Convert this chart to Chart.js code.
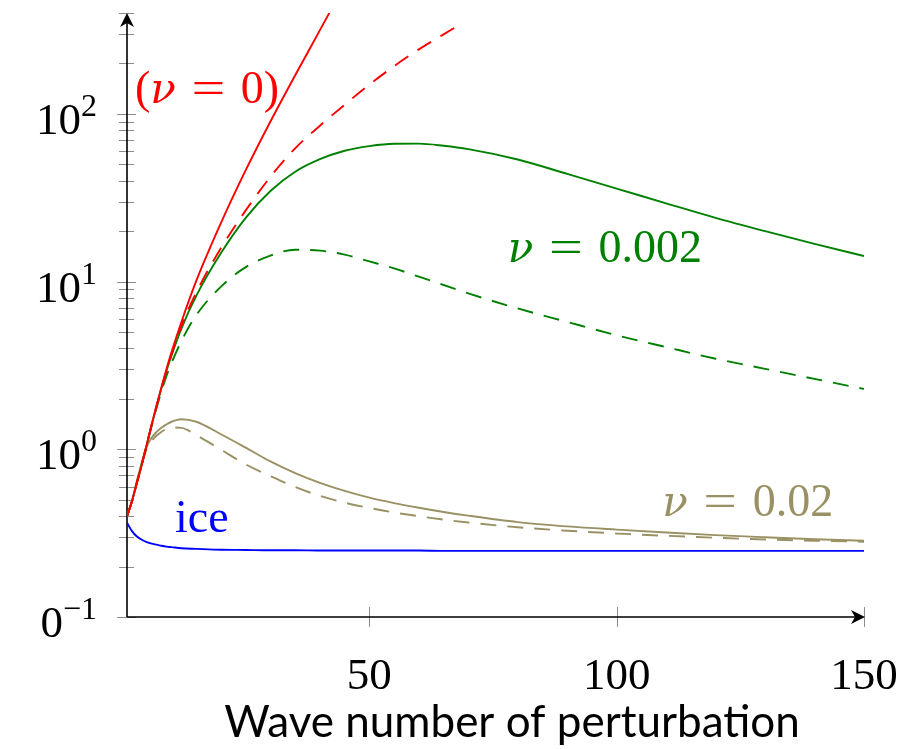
<!DOCTYPE html>
<html>
<head>
<meta charset="utf-8">
<title>Growth rate vs wave number of perturbation</title>
<script src="https://cdn.jsdelivr.net/npm/chart.js@4.4.1/dist/chart.umd.min.js"></script>
<style>
  html, body { margin: 0; padding: 0; background: #ffffff; }
  #chart { display: block; }
</style>
</head>
<body>
<canvas id="chart" width="914" height="749"></canvas>
<script>
// Values (log scale on y)
const waveNumbers = [1, 2, 3, 4, 5, 6, 7, 8, 9, 10, 12, 15, 20, 25, 30, 35, 40, 45, 50, 55, 60, 65, 70, 80, 90, 100, 110, 120, 130, 140, 150];

// nu = 0 curves leave the plot early
const inviscidSolidX = [1, 2, 3, 4, 5, 6, 7, 8, 9, 10, 12, 15, 20, 25, 30, 35, 40, 45];
const inviscidSolid = [0.398, 0.49, 0.631, 0.813, 1.07, 1.41, 1.84, 2.37, 3.02, 3.80, 5.75, 10.1, 22.4, 46.2, 90.2, 170, 316, 589];
const inviscidDashedX = [1, 2, 3, 4, 5, 6, 7, 8, 9, 10, 12, 15, 20, 25, 30, 35, 40, 45, 50, 55, 60, 65, 69];
const inviscidDashed = [0.398, 0.49, 0.631, 0.813, 1.07, 1.41, 1.82, 2.34, 2.95, 3.67, 5.43, 8.61, 15.85, 26.6, 42.2, 62.4, 85.1, 113.5, 149.6, 192.8, 242.7, 298.5, 350.8];

const nu002Solid = [0.398, 0.49, 0.631, 0.813, 1.07, 1.40, 1.82, 2.34, 2.95, 3.63, 5.25, 8.22, 14.8, 24.0, 34.7, 45.2, 53.7, 60.3, 64.3, 66.4, 66.5, 64.6, 61.7, 53.5, 43.9, 35.9, 29.3, 24.0, 20.0, 16.8, 14.2];
const nu002Dashed = [0.398, 0.49, 0.631, 0.813, 1.06, 1.38, 1.78, 2.24, 2.75, 3.27, 4.42, 6.31, 9.33, 12.2, 14.3, 15.5, 15.3, 14.5, 13.2, 12.0, 10.7, 9.55, 8.51, 6.92, 5.75, 4.79, 4.07, 3.47, 3.02, 2.63, 2.29];

const nu02Solid = [0.398, 0.49, 0.646, 0.841, 1.035, 1.175, 1.27, 1.35, 1.41, 1.46, 1.51, 1.46, 1.23, 1.023, 0.847, 0.721, 0.631, 0.565, 0.515, 0.478, 0.448, 0.423, 0.402, 0.368, 0.347, 0.332, 0.319, 0.308, 0.299, 0.291, 0.285];
const nu02Dashed = [0.398, 0.49, 0.646, 0.832, 1.0, 1.122, 1.208, 1.274, 1.324, 1.349, 1.343, 1.216, 0.995, 0.813, 0.692, 0.596, 0.528, 0.481, 0.447, 0.420, 0.399, 0.381, 0.366, 0.343, 0.327, 0.315, 0.305, 0.297, 0.290, 0.285, 0.281];

const iceValues = [0.365, 0.325, 0.302, 0.289, 0.280, 0.274, 0.270, 0.266, 0.263, 0.261, 0.257, 0.255, 0.252, 0.251, 0.250, 0.250, 0.249, 0.249, 0.249, 0.249, 0.249, 0.248, 0.248, 0.248, 0.248, 0.248, 0.248, 0.248, 0.248, 0.248, 0.248];

// axis ticks
const xTicks = [50, 100, 150];
const yDecades = [0.1, 1, 10, 100];
const yDecadeBases = ['0', '10', '10', '10'];
const yDecadeExps = ['\u22121', '0', '1', '2'];
const yMinorTicks = [0.2, 0.3, 0.4, 0.5, 0.6, 0.7, 0.8, 0.9, 2, 3, 4, 5, 6, 7, 8, 9, 20, 30, 40, 50, 60, 70, 80, 90, 200, 300, 400];

const xTitle = 'Wave number of perturbation';

const COLORS = {
    red: '#ff0000',
    green: '#008000',
    olive: '#999163',
    blue: '#0000ff',
    tick: '#8c8c8c'
};

const SERIF = '"Liberation Serif", "DejaVu Serif", serif';
const GREEK = '"DejaVu Serif", serif';

// curve annotations, placed in data coordinates
const curveLabels = [
    { x: 2.6, y: 116, color: COLORS.red, value: '0', wrap: true },
    { x: 78.0, y: 13.1, color: COLORS.green, value: '0.002' },
    { x: 109.2, y: 0.40, color: COLORS.olive, value: '0.02' },
    { x: 10.7, y: 0.321, color: COLORS.blue, text: 'ice' }
];

function pairs(xs, ys) {
    return xs.map((x, i) => ({ x: x, y: ys[i] }));
}

function line(label, xs, ys, color, dashed) {
    return {
        label: label,
        data: pairs(xs, ys),
        borderColor: color,
        borderWidth: 1.9,
        borderDash: dashed ? [16, 11] : [],
        pointRadius: 0,
        fill: false,
        cubicInterpolationMode: 'monotone'
    };
}

/**
 * Draw "(nu = value)" with an italic nu
 */
function drawNuLabel(ctx, x, y, lbl) {
    const size = 46;
    const upright = size + 'px ' + SERIF;
    const italic = 'italic ' + (size - 4) + 'px ' + GREEK;
    const gap = size * 0.34;
    ctx.fillStyle = lbl.color;
    ctx.textBaseline = 'alphabetic';
    ctx.textAlign = 'left';
    if (lbl.text) {
        ctx.font = upright;
        ctx.fillText(lbl.text, x, y);
        return;
    }
    let cx = x;
    if (lbl.wrap) {
        ctx.font = upright;
        ctx.fillText('(', cx, y);
        cx += ctx.measureText('(').width;
    }
    ctx.font = italic;
    ctx.fillText('\u03bd', cx, y);
    cx += ctx.measureText('\u03bd').width + gap;
    ctx.font = upright;
    ctx.save();
    ctx.scale(1.3, 1);
    ctx.fillText('=', cx / 1.3, y);
    ctx.restore();
    cx += ctx.measureText('=').width * 1.3 + gap;
    ctx.fillText(lbl.value, cx, y);
    cx += ctx.measureText(lbl.value).width;
    if (lbl.wrap) {
        ctx.fillText(')', cx, y);
    }
}

function arrowHead(ctx, tipX, tipY, dirX, dirY) {
    const len = 14, half = 7, notch = 10;
    const px = -dirY, py = dirX;
    ctx.beginPath();
    ctx.moveTo(tipX, tipY);
    ctx.lineTo(tipX - dirX * len + px * half, tipY - dirY * len + py * half);
    ctx.lineTo(tipX - dirX * notch, tipY - dirY * notch);
    ctx.lineTo(tipX - dirX * len - px * half, tipY - dirY * len - py * half);
    ctx.closePath();
    ctx.fill();
}

const axisFrame = {
    id: 'axisFrame',
    beforeDatasetsDraw(chart) {
        const ctx = chart.ctx;
        const xs = chart.scales.x, ys = chart.scales.y;
        const area = chart.chartArea;
        const x0 = area.left, y0 = area.bottom;

        ctx.save();
        // gray tick marks crossing the axes
        ctx.strokeStyle = COLORS.tick;
        ctx.lineWidth = 1;
        yMinorTicks.forEach(v => {
            const py = Math.round(ys.getPixelForValue(v)) + 0.5;
            ctx.beginPath();
            ctx.moveTo(x0 - 8, py);
            ctx.lineTo(x0 + 7, py);
            ctx.stroke();
        });
        yDecades.forEach(v => {
            const py = Math.round(ys.getPixelForValue(v)) + 0.5;
            ctx.beginPath();
            ctx.moveTo(x0 - 10, py);
            ctx.lineTo(x0 + 9, py);
            ctx.stroke();
        });
        xTicks.forEach(v => {
            const px = Math.round(xs.getPixelForValue(v)) + 0.5;
            ctx.beginPath();
            ctx.moveTo(px, y0 - 10);
            ctx.lineTo(px, y0 + 10);
            ctx.stroke();
        });

        // black axis lines with arrows
        ctx.strokeStyle = '#000000';
        ctx.fillStyle = '#000000';
        ctx.lineWidth = 1.6;
        ctx.beginPath();
        ctx.moveTo(x0, y0);
        ctx.lineTo(x0, area.top + 8);
        ctx.moveTo(x0, y0);
        ctx.lineTo(area.right - 8, y0);
        ctx.stroke();
        arrowHead(ctx, x0, area.top, 0, -1);
        arrowHead(ctx, area.right + 1, y0, 1, 0);
        ctx.restore();
    },
    afterDatasetsDraw(chart) {
        const ctx = chart.ctx;
        const xs = chart.scales.x, ys = chart.scales.y;
        const area = chart.chartArea;

        ctx.save();
        ctx.fillStyle = '#000000';
        ctx.textBaseline = 'alphabetic';

        // y tick labels: base with superscript exponent, right aligned
        const labelRight = area.left - 30;
        yDecades.forEach((v, i) => {
            const py = ys.getPixelForValue(v);
            ctx.font = '32px ' + SERIF;
            ctx.textAlign = 'right';
            ctx.fillText(yDecadeExps[i], labelRight, py + 2);
            const expW = ctx.measureText(yDecadeExps[i]).width;
            ctx.font = '45px ' + SERIF;
            ctx.fillText(yDecadeBases[i], labelRight - expW, py + 20);
        });

        // x tick labels
        ctx.font = '45px ' + SERIF;
        ctx.textAlign = 'center';
        xTicks.forEach(v => {
            ctx.fillText(String(v), xs.getPixelForValue(v), area.bottom + 72);
        });

        // x axis title
        ctx.font = '44px Lato, "Open Sans", sans-serif';
        ctx.fillText(xTitle, 512, area.bottom + 120);

        // curve labels
        curveLabels.forEach(lbl => {
            drawNuLabel(ctx, xs.getPixelForValue(lbl.x), ys.getPixelForValue(lbl.y), lbl);
        });
        ctx.restore();
    }
};

const chart = new Chart(document.getElementById('chart'), {
    type: 'line',
    data: {
        datasets: [
            line('nu = 0', inviscidSolidX, inviscidSolid, COLORS.red, false),
            line('nu = 0 (dashed)', inviscidDashedX, inviscidDashed, COLORS.red, true),
            line('nu = 0.002', waveNumbers, nu002Solid, COLORS.green, false),
            line('nu = 0.002 (dashed)', waveNumbers, nu002Dashed, COLORS.green, true),
            line('nu = 0.02', waveNumbers, nu02Solid, COLORS.olive, false),
            line('nu = 0.02 (dashed)', waveNumbers, nu02Dashed, COLORS.olive, true),
            line('ice', waveNumbers, iceValues, COLORS.blue, false)
        ]
    },
    options: {
        responsive: false,
        animation: false,
        layout: {
            padding: { left: 127, right: 50, top: 13, bottom: 132 }
        },
        plugins: {
            legend: { display: false },
            tooltip: { enabled: false }
        },
        scales: {
            x: { type: 'linear', min: 1, max: 150, display: false },
            y: { type: 'logarithmic', min: 0.1, max: 400, display: false }
        }
    },
    plugins: [axisFrame]
});
</script>
</body>
</html>
